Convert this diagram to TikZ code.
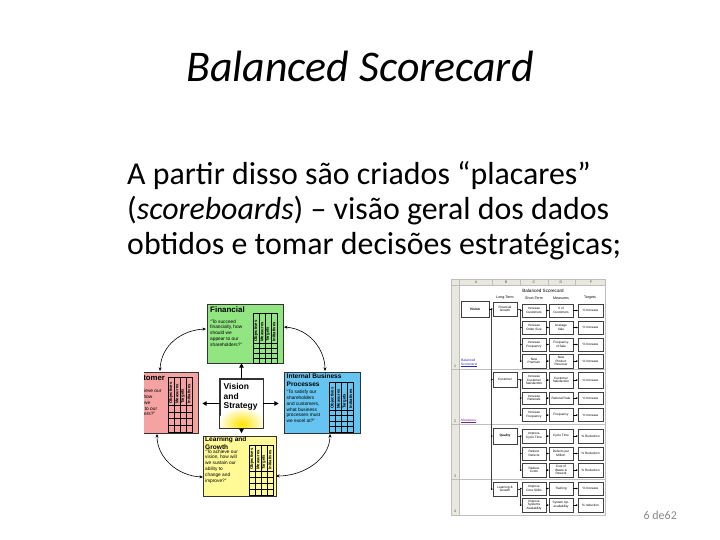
\documentclass[tikz,border=0pt]{standalone}
\usepackage{fontspec}
\setmainfont{Carlito}
\newfontfamily\arial{Liberation Sans}
\usetikzlibrary{arrows.meta}
\definecolor{fingreen}{RGB}{146,230,130}
\definecolor{custpink}{RGB}{244,162,162}
\definecolor{intblue}{RGB}{102,196,240}
\definecolor{lgyellow}{RGB}{255,250,150}
\definecolor{vsyellow}{RGB}{255,228,0}
\definecolor{pagegray}{RGB}{137,137,137}
\definecolor{sheetgray}{RGB}{190,190,190}
\definecolor{hdrgray}{RGB}{232,232,222}
\definecolor{linkblue}{RGB}{40,40,190}
\definecolor{linkpurple}{RGB}{110,40,150}
\tikzset{
  persbox/.style={draw=black!80, line width=0.5pt, inner sep=0pt},
  ptitle/.style={anchor=north west, inner sep=0pt, align=left, font=\arial\bfseries\fontsize{8}{8.5}\selectfont},
  ptitlesm/.style={anchor=north west, inner sep=0pt, align=left, font=\arial\bfseries\fontsize{6.6}{7.4}\selectfont},
  pquote/.style={anchor=north west, inner sep=0pt, align=left, font=\arial\fontsize{4.8}{5.8}\selectfont},
  gridline/.style={draw=black, line width=0.35pt},
  hdrtxt/.style={rotate=90, anchor=west, inner sep=0.4pt, font=\arial\bfseries\fontsize{4.2}{4.2}\selectfont},
  vsarrow/.style={line width=1.4pt, -{Triangle[length=4.5pt,width=4.5pt]}},
  cyclearrow/.style={line width=0.6pt, {Stealth[length=3.5pt,width=3pt]}-{Stealth[length=3.5pt,width=3pt]}},
  sbox/.style={draw=black!75, line width=0.4pt, fill=white, inner sep=0pt, align=center,
    font=\arial\fontsize{3.2}{3.7}\selectfont, minimum width=24bp},
  stxt/.style={inner sep=0pt, font=\arial\fontsize{3.6}{4}\selectfont},
  sarr/.style={line width=0.4pt, -{Stealth[length=2pt,width=1.8pt]}},
  sline/.style={line width=0.4pt, draw=black!75},
}
\newcommand\bscgrid[5]{% #1 left x, #2 header top, #3 grid top, #4 bottom, #5 name
  \draw[gridline] (#1,#2) rectangle (#1+24,#4);
  \foreach \k in {1,2,3} \draw[gridline] (#1+6*\k,#2) -- (#1+6*\k,#4);
  \draw[gridline] (#1,#3) -- (#1+24,#3);
  \foreach \k in {1,2,3} \draw[gridline] (#1,{#3+\k*(#4-#3)/4}) -- (#1+24,{#3+\k*(#4-#3)/4});
  \foreach \lab [count=\k] in {Objectives,Measures,Targets,Initiatives}
    \node[hdrtxt] (#5-\k) at (#1+6*\k-3,#3-0.8) {\lab};
}
\begin{document}
\begin{tikzpicture}[x=1bp,y=-1bp]
\useasboundingbox (0,0) rectangle (720,540);
\fill[white] (0,0) rectangle (720,540);

% ---- title and text
\node[anchor=base, inner sep=0pt, font=\itshape\fontsize{44}{44}\selectfont] (title) at (360,82) {Balanced Scorecard};
\node[anchor=base west, inner sep=0pt, font=\fontsize{32}{35}\selectfont] (body1) at (127,185) {A partir disso são criados “placares”};
\node[anchor=base west, inner sep=0pt, font=\fontsize{32}{35}\selectfont] (body2) at (127,220) {(\textit{scoreboards}) – visão geral dos dados};
\node[anchor=base west, inner sep=0pt, font=\fontsize{32}{35}\selectfont] (body3) at (127,255) {obtidos e tomar decisões estratégicas;};
\node[anchor=base east, inner sep=0pt, text=pagegray, font=\fontsize{12}{12}\selectfont] (pgnum) at (677,519) {6 de62};

% ---- balanced scorecard perspectives
\node[persbox, fill=fingreen, minimum width=76bp, minimum height=59bp] (fin) at (245,333.5) {};
\begin{scope}
  \clip (144,300) rectangle (720,540);
  \node[persbox, fill=custpink, minimum width=76bp, minimum height=61bp] (cust) at (160,402.5) {};
  \node[ptitle, font=\arial\bfseries\fontsize{7.8}{8.3}\selectfont] (custt) at (128.5,375) {Customer};
  \node[pquote] (custq) at (128.5,389) {“To achieve our\\vision, how\\should we\\appear to our\\customers?”};
\end{scope}
\node[persbox, fill=intblue, minimum width=76bp, minimum height=61bp] (int) at (322,402.5) {};
\node[persbox, fill=lgyellow, minimum width=73bp, minimum height=60bp] (learn) at (239.5,466) {};
\node[persbox, fill=white, minimum width=43bp, minimum height=49bp] (vs) at (241.5,403.5) {};
\begin{scope}
  \clip (vs.south west) rectangle (vs.north east);
  \shade[inner color=vsyellow, outer color=white] (241.5,424) ellipse (24 and 17);
\end{scope}
\draw[black!80, line width=0.6pt] (vs.south west) rectangle (vs.north east);
\node[anchor=north west, inner sep=0pt, align=left, font=\arial\bfseries\fontsize{8.5}{9.2}\selectfont] (vstxt) at (223.5,383.5) {Vision\\and\\Strategy};

% Financial
\node[ptitle] (fint) at (210,307) {Financial};
\node[pquote] (finq) at (210,319.5) {“To succeed\\financially, how\\should we\\appear to our\\shareholders?”};
\bscgrid{253}{313}{343}{363}{finh}
% Customer table
\bscgrid{168}{377}{405}{432}{custh}
% Internal
\node[ptitlesm] (intt) at (286.5,374) {Internal Business\\Processes};
\node[pquote] (intq) at (286.5,390) {“To satisfy our\\shareholders\\and customers,\\what business\\processes must\\we excel at?”};
\bscgrid{329.5}{382}{410}{432}{inth}
% Learning
\node[ptitlesm] (learnt) at (205,437) {Learning and\\Growth};
\node[pquote] (learnq) at (205,449.5) {“To achieve our\\vision, how will\\we sustain our\\ability to\\change and\\improve?”};
\bscgrid{249}{445}{471}{495}{learnh}

% vision arrows
\draw[vsarrow] (vs.north) -- (vs.north |- fin.south);
\draw[vsarrow, shorten >=4pt] (vs.west) -- (vs.west -| cust.east);
\draw[vsarrow, shorten >=5pt] (vs.east) -- (vs.east -| int.west);
\draw[vsarrow, shorten >=2.5pt] (vs.south) -- (vs.south |- learn.north);

% cycle arrows
\coordinate (finL) at (206,329);
\coordinate (finR) at (284,327);
\coordinate (custT) at (160,371);
\coordinate (custB) at (157,434);
\coordinate (intT) at (325,371);
\coordinate (intB) at (330,434);
\coordinate (learnL) at (203,477);
\coordinate (learnR) at (276,476);
\draw[cyclearrow] (finL) .. controls (182,330) and (161,345) .. (custT);
\draw[cyclearrow] (finR) .. controls (310,329) and (325,350) .. (intT);
\draw[cyclearrow] (custB) .. controls (157,458) and (178,476) .. (learnL);
\draw[cyclearrow] (intB) .. controls (330,458) and (305,476) .. (learnR);

% ---- spreadsheet
\fill[hdrgray] (451,279) rectangle (605,285.5);
\fill[hdrgray] (451,285.5) rectangle (459,515);
\draw[sheetgray, line width=0.4pt] (451,279) rectangle (605,515);
\draw[sheetgray, line width=0.4pt] (451,285.5) -- (605,285.5);
\draw[sheetgray, line width=0.4pt] (459,279) -- (459,515);
\foreach \xx in {492,520,548,575} \draw[sheetgray, line width=0.4pt] (\xx,279) -- (\xx,285.5);
\foreach \yy in {369,424,479} \draw[sheetgray, line width=0.4pt] (451,\yy) -- (605,\yy);
\foreach \lt/\xx in {A/476,B/506,C/534,D/561,F/591}
  \node[stxt, text=black!70] (col\lt) at (\xx,282.3) {\lt};
\foreach \nn/\yy in {1/366,2/421,3/476,4/511}
  \node[stxt, text=black!70] (row\nn) at (455,\yy) {\nn};
\node[stxt, font=\arial\fontsize{4.6}{5}\selectfont] (stitle) at (543,291) {Balanced Scorecard};
\node[stxt] (hLT) at (505,298) {Long-Term};
\node[stxt] (hST) at (534,298) {Short-Term};
\node[stxt] (hM) at (561,298) {Measures};
\node[stxt] (hT) at (590,298) {Targets};
\node[stxt, text=linkblue, align=left, anchor=west, font=\arial\fontsize{3.4}{3.9}\selectfont] (lnk1) at (461,363) {Balanced\\\underline{Scorecard}};
\node[stxt, text=linkpurple, anchor=west, font=\arial\fontsize{3.4}{3.9}\selectfont] (lnk2) at (461,421) {\underline{Measures}};

\node[sbox, minimum width=28bp, minimum height=16bp, font=\arial\bfseries\fontsize{3.4}{3.8}\selectfont] (sv) at (475,309) {Vision};
\node[sbox, minimum height=14bp] (bfin) at (505,309) {Financial\\Growth};
\node[sbox, minimum height=15bp] (bcus) at (505,379.5) {Customer};
\node[sbox, minimum height=16bp, font=\arial\bfseries\fontsize{3.2}{3.7}\selectfont] (bqual) at (505,436) {Quality};
\node[sbox, minimum height=14bp] (blg) at (505,489) {Learning \&\\Growth};

\foreach \r/\yy/\hh/\ct/\dt/\et in {
  1/310.5/13/{Increase\\Customers}/{\# of\\Customers}/{\% Increase},
  2/327.5/13/{Increase\\Order Size}/{Average\\Sale}/{\% Increase},
  3/344.5/13/{Increase\\Frequency}/{Frequency\\of Sale}/{\% Increase},
  4/361/14/{New\\Premium}/{New\\Product\\Revenue}/{\% Increase},
  5/380/16/{Increase\\Customer\\Satisfaction}/{Customer\\Satisfaction}/{\% Increase},
  6/398/12/{Increase\\Referrals}/{Referral Rate}/{\% Increase},
  7/415/13/{Increase\\Frequency}/{Frequency}/{\% Increase},
  8/436/14/{Improve\\Cycle Time}/{Cycle Time}/{\% Reduction},
  9/453.5/13/{Reduce\\Defects}/{Defects per\\Million}/{\% Reduction},
  10/470/14/{Reduce\\Costs}/{Cost of\\Waste \&\\Rework}/{\% Reduction},
  11/488.5/13/{Improve\\Core Skills}/{Training}/{\% Increase},
  12/505/14/{Improve\\Systems\\Availability}/{System Up-\\availability}/{\% reduction}}{
  \node[sbox, minimum height=\hh bp] (c\r) at (534,\yy) {\ct};
  \node[sbox, minimum height=\hh bp] (d\r) at (561,\yy) {\dt};
  \node[sbox, minimum height=\hh bp, minimum width=25bp] (e\r) at (590.5,\yy) {\et};
  \draw[sarr] (c\r.east) -- (d\r.west);
  \draw[sarr] (d\r.east) -- (e\r.west);
}
% long-term trunk
\coordinate (trA) at (491,309);
\coordinate (trB) at (491,489);
\draw[sline] (trA) -- (trB);
\draw[sarr] (sv.east) -- (bfin.west);
\foreach \b in {bcus,bqual,blg} \draw[sarr] (trA |- \b.west) -- (\b.west);
% short-term trunks
\foreach \b/\first/\last in {bfin/1/4,bcus/5/7,bqual/8/10,blg/11/12}{
  \draw[sline] (\b.east) -- (520,0 |- \b.east) -- (520,0 |- c\last.west);
  \foreach \r in {\first,...,\last} \draw[sarr] (520,0 |- c\r.west) -- (c\r.west);
}
\end{tikzpicture}
\end{document}
